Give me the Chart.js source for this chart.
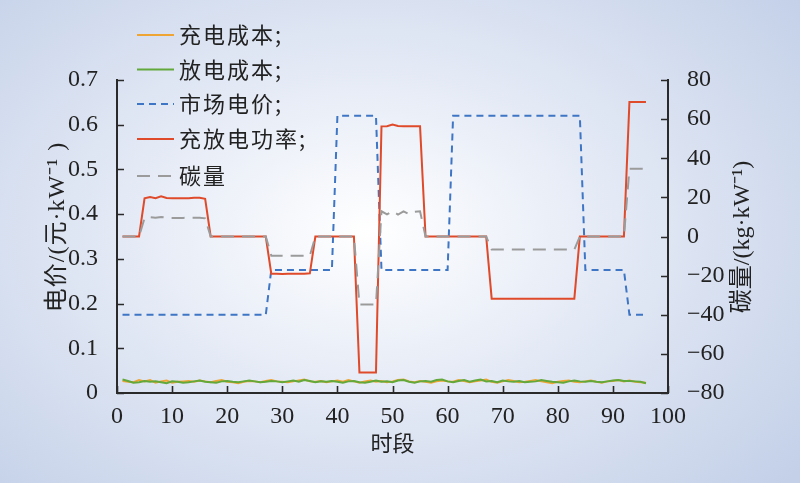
<!DOCTYPE html>
<html>
<head>
<meta charset="utf-8">
<script src="https://cdn.jsdelivr.net/npm/chart.js@4.4.1/dist/chart.umd.min.js"></script>
<style>
  html, body { margin: 0; padding: 0; }
  body {
    width: 800px; height: 483px; overflow: hidden;
    background: radial-gradient(ellipse 70% 78% at 46% 48%, #ffffff 0%, #e3e9f5 45%, #c3d0e8 100%);
  }
  #wrap { position: relative; width: 800px; height: 483px; }
</style>
</head>
<body>
<div id="wrap"><canvas id="chart" width="800" height="483"></canvas></div>
<script>
// Time periods 1..96
const periods = Array.from({ length: 96 }, (_, i) => i + 1);

const seriesLabels = ['充电成本;', '放电成本;', '市场电价;', '充放电功率;', '碳量'];

// Charging cost (left axis)
const chargeCost = [
  0.027, 0.025, 0.024, 0.029, 0.026, 0.029, 0.023, 0.026, 0.028, 0.023,
  0.025, 0.026, 0.027, 0.025, 0.028, 0.026, 0.024, 0.027, 0.029, 0.025,
  0.024, 0.022, 0.025, 0.027, 0.026, 0.024, 0.027, 0.029, 0.026, 0.025,
  0.024, 0.026, 0.028, 0.030, 0.026, 0.025, 0.027, 0.024, 0.026, 0.028,
  0.025, 0.029, 0.026, 0.023, 0.026, 0.028, 0.025, 0.027, 0.024, 0.026,
  0.029, 0.030, 0.026, 0.024, 0.027, 0.025, 0.023, 0.026, 0.028, 0.026,
  0.025, 0.029, 0.027, 0.024, 0.026, 0.028, 0.030, 0.025, 0.023, 0.026,
  0.029, 0.027, 0.024, 0.025, 0.027, 0.029, 0.026, 0.024, 0.022, 0.025,
  0.027, 0.028, 0.025, 0.024, 0.026, 0.028, 0.025, 0.023, 0.026, 0.027,
  0.029, 0.026, 0.028, 0.025, 0.024, 0.023
];

// Discharging cost (left axis)
const dischargeCost = [
  0.030, 0.027, 0.023, 0.024, 0.027, 0.025, 0.026, 0.024, 0.022, 0.026,
  0.025, 0.023, 0.024, 0.026, 0.028, 0.025, 0.024, 0.023, 0.026, 0.027,
  0.025, 0.024, 0.026, 0.028, 0.026, 0.024, 0.025, 0.027, 0.026, 0.024,
  0.026, 0.028, 0.025, 0.029, 0.027, 0.024, 0.026, 0.025, 0.027, 0.025,
  0.023, 0.026, 0.027, 0.024, 0.023, 0.025, 0.028, 0.025, 0.026, 0.024,
  0.028, 0.029, 0.025, 0.023, 0.026, 0.027, 0.025, 0.029, 0.030, 0.026,
  0.024, 0.027, 0.029, 0.025, 0.028, 0.030, 0.026, 0.027, 0.024, 0.028,
  0.026, 0.025, 0.027, 0.024, 0.025, 0.026, 0.029, 0.027, 0.025, 0.024,
  0.023, 0.026, 0.028, 0.026, 0.025, 0.027, 0.025, 0.024, 0.026, 0.028,
  0.029, 0.027, 0.027, 0.026, 0.025, 0.022
];

// Market price (left axis)
const marketPrice = [
  0.175, 0.175, 0.175, 0.175, 0.175, 0.175, 0.175, 0.175, 0.175, 0.175,
  0.175, 0.175, 0.175, 0.175, 0.175, 0.175, 0.175, 0.175, 0.175, 0.175,
  0.175, 0.175, 0.175, 0.175, 0.175, 0.175, 0.175, 0.275, 0.275, 0.275,
  0.275, 0.275, 0.275, 0.275, 0.275, 0.275, 0.275, 0.275, 0.275, 0.62,
  0.62, 0.62, 0.62, 0.62, 0.62, 0.62, 0.62, 0.275, 0.275, 0.275,
  0.275, 0.275, 0.275, 0.275, 0.275, 0.275, 0.275, 0.275, 0.275, 0.275,
  0.62, 0.62, 0.62, 0.62, 0.62, 0.62, 0.62, 0.62, 0.62, 0.62,
  0.62, 0.62, 0.62, 0.62, 0.62, 0.62, 0.62, 0.62, 0.62, 0.62,
  0.62, 0.62, 0.62, 0.62, 0.275, 0.275, 0.275, 0.275, 0.275, 0.275,
  0.275, 0.275, 0.175, 0.175, 0.175, 0.175
];

// Charge/discharge power (right axis)
const power = [
  0, 0, 0, 0, 19.5, 20.2, 19.6, 20.5, 19.7, 19.5,
  19.5, 19.5, 19.6, 19.8, 19.8, 19.3, 0, 0, 0, 0,
  0, 0, 0, 0, 0, 0, 0, -19, -19, -19.2,
  -19, -19, -19.1, -19, -18.8, 0, 0, 0, 0, 0,
  0, 0, 0, -69.5, -69.5, -69.5, -69.5, 56.3, 56.4, 57.2,
  56.5, 56.3, 56.3, 56.3, 56.3, 0, 0, 0, 0, 0,
  0, 0, 0, 0, 0, 0, 0, -31.8, -31.8, -31.8,
  -31.8, -31.8, -31.8, -31.8, -31.8, -31.8, -31.8, -31.8, -31.8, -31.8,
  -31.8, -31.8, -31.8, 0, 0, 0, 0, 0, 0, 0,
  0, 0, 68.8, 68.8, 68.8, 68.8
];

// Carbon amount (right axis)
const carbon = [
  0, 0, 0, 0, 9.4, 9.9, 9.6, 10.0, 9.6, 9.5,
  9.5, 9.5, 9.6, 9.6, 9.6, 9.3, 0, 0, 0, 0,
  0, 0, 0, 0, 0, 0, 0, -9.8, -9.8, -9.8,
  -9.8, -9.8, -9.8, -9.8, -9.8, 0, 0, 0, 0, 0,
  0, 0, 0, -34.8, -34.8, -34.8, -34.8, 12.9, 11.3, 12.9,
  11.2, 12.8, 11.4, 12.6, 12.9, 0, 0, 0, 0, 0,
  0, 0, 0, 0, 0, 0, 0, -6.7, -6.7, -6.7,
  -6.7, -6.7, -6.7, -6.7, -6.7, -6.7, -6.7, -6.7, -6.7, -6.7,
  -6.7, -6.7, -6.7, 0, 0, 0, 0, 0, 0, 0,
  0, 0, 34.6, 34.6, 34.6, 34.6
];

const xTickValues = [0, 10, 20, 30, 40, 50, 60, 70, 80, 90, 100];

const axisColor = '#2a2a2a';
const textColor = '#222222';
const serif = '"Liberation Serif", "Times New Roman", "Noto Sans CJK SC", serif';
const cjk = '"Noto Sans CJK SC", "Liberation Serif", sans-serif';

function toPoints(values) {
  return periods.map((p, i) => ({ x: p, y: values[i] }));
}

// ticks pointing into the plot
const insideTicks = {
  id: 'insideTicks',
  afterDraw(chart) {
    const { ctx, chartArea, scales } = chart;
    const len = 7;
    ctx.save();
    ctx.strokeStyle = axisColor;
    ctx.lineWidth = 1.6;
    ctx.beginPath();
    scales.x.ticks.forEach(t => {
      const px = Math.round(scales.x.getPixelForValue(t.value)) + 0.5;
      ctx.moveTo(px, chartArea.bottom);
      ctx.lineTo(px, chartArea.bottom - len);
    });
    scales.y.ticks.forEach(t => {
      const py = Math.round(scales.y.getPixelForValue(t.value)) + 0.5;
      ctx.moveTo(chartArea.left, py);
      ctx.lineTo(chartArea.left + len, py);
    });
    scales.y1.ticks.forEach(t => {
      const py = Math.round(scales.y1.getPixelForValue(t.value)) + 0.5;
      ctx.moveTo(chartArea.right, py);
      ctx.lineTo(chartArea.right - len, py);
    });
    ctx.stroke();
    ctx.restore();
  }
};

// both vertical titles read bottom-to-top
const sideTitles = {
  id: 'sideTitles',
  afterDraw(chart) {
    const { ctx } = chart;
    const items = [
      { text: '电价/(元·kW⁻¹ )', x: 58, y: 227, spacing: '1px' },
      { text: '碳量/(kg·kW⁻¹)', x: 743, y: 237, spacing: '0px' }
    ];
    ctx.save();
    ctx.fillStyle = textColor;
    ctx.font = '24px ' + serif;
    ctx.textAlign = 'center';
    ctx.textBaseline = 'middle';
    items.forEach(it => {
      ctx.save();
      ctx.translate(it.x, it.y);
      ctx.rotate(-Math.PI / 2);
      ctx.letterSpacing = it.spacing;
      ctx.fillText(it.text, 0, 0);
      ctx.restore();
    });
    ctx.restore();
  }
};

// legend sitting over the top-left of the plot
const cornerLegend = {
  id: 'cornerLegend',
  afterDraw(chart) {
    const { ctx } = chart;
    const rows = [35, 69.5, 104, 139, 176];
    ctx.save();
    ctx.font = '22px ' + cjk;
    ctx.textBaseline = 'middle';
    ctx.fillStyle = textColor;
    chart.data.datasets.forEach((ds, i) => {
      const y = rows[i];
      ctx.save();
      ctx.strokeStyle = ds.borderColor;
      ctx.lineWidth = 2;
      ctx.setLineDash(ds.borderDash || []);
      ctx.beginPath();
      ctx.moveTo(137, y);
      ctx.lineTo(174, y);
      ctx.stroke();
      ctx.restore();
      ctx.save();
      ctx.letterSpacing = '2px';
      ctx.fillText(ds.label, 179, y);
      ctx.restore();
    });
    ctx.restore();
  }
};

const ctx = document.getElementById('chart').getContext('2d');
new Chart(ctx, {
  type: 'line',
  data: {
    datasets: [
      { label: seriesLabels[0], data: toPoints(chargeCost), yAxisID: 'y', borderColor: '#efa534', borderWidth: 2, order: 5 },
      { label: seriesLabels[1], data: toPoints(dischargeCost), yAxisID: 'y', borderColor: '#62a83a', borderWidth: 2, order: 4 },
      { label: seriesLabels[2], data: toPoints(marketPrice), yAxisID: 'y', borderColor: '#3e75c4', borderWidth: 2, borderDash: [7, 5], order: 3 },
      { label: seriesLabels[3], data: toPoints(power), yAxisID: 'y1', borderColor: '#df4a2a', borderWidth: 2, order: 2 },
      { label: seriesLabels[4], data: toPoints(carbon), yAxisID: 'y1', borderColor: '#9b9b9b', borderWidth: 2, borderDash: [13, 8], order: 1 }
    ]
  },
  options: {
    responsive: false,
    animation: false,
    layout: { padding: { top: 80, left: 0, right: 0, bottom: 0 } },
    elements: { point: { radius: 0 }, line: { tension: 0, fill: false } },
    plugins: { legend: { display: false }, tooltip: { enabled: false } },
    scales: {
      x: {
        type: 'linear',
        min: 0,
        max: 100,
        afterFit: s => { s.height = 90; },
        afterBuildTicks: s => { s.ticks = xTickValues.map(v => ({ value: v })); },
        grid: { display: false },
        border: { color: axisColor, width: 2 },
        ticks: { color: textColor, padding: 1, maxRotation: 0, font: { family: serif, size: 24 } },
        title: { display: true, text: '时段', color: textColor, padding: { top: 0, bottom: 27 }, font: { family: cjk, size: 22 } }
      },
      y: {
        position: 'left',
        min: 0,
        max: 0.7,
        afterFit: s => { s.width = 117; },
        grid: { display: false },
        border: { color: axisColor, width: 2 },
        ticks: { stepSize: 0.1, color: textColor, padding: 11, font: { family: serif, size: 24 } }
      },
      y1: {
        position: 'right',
        min: -80,
        max: 80,
        afterFit: s => { s.width = 132; },
        grid: { display: false },
        border: { color: axisColor, width: 2 },
        ticks: {
          stepSize: 20,
          color: textColor,
          padding: 11,
          font: { family: serif, size: 24 },
          callback: v => String(v).replace('-', '−')
        }
      }
    }
  },
  plugins: [insideTicks, sideTitles, cornerLegend]
});
</script>
</body>
</html>
